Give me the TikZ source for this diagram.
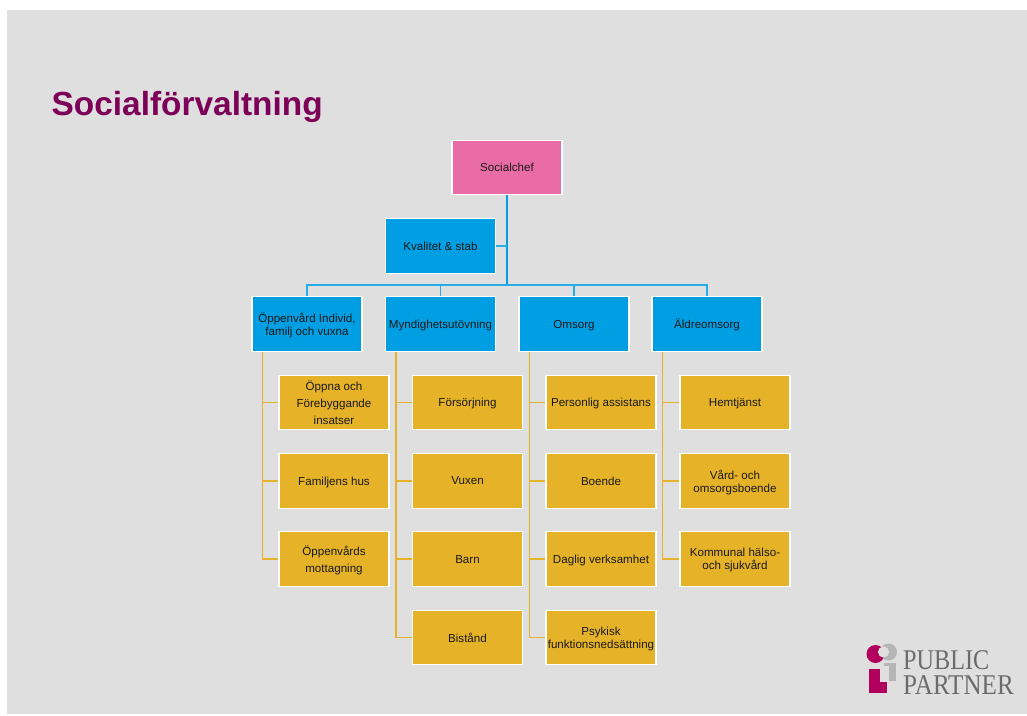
\documentclass[tikz,border=0pt]{standalone}
\usepackage{fontspec}
\setmainfont{Liberation Sans}
\newfontfamily\logofont{Liberation Serif}
\usepackage{xcolor}
\usepackage{tikz}
\definecolor{slidegray}{HTML}{DFDFDF}
\definecolor{titleplum}{HTML}{7D0058}
\definecolor{chefpink}{HTML}{EA6CA6}
\definecolor{unitblue}{HTML}{009FE3}
\definecolor{subyellow}{HTML}{E6B328}
\definecolor{logored}{HTML}{B2005E}
\definecolor{logogray}{HTML}{B5B5B5}
\definecolor{logotext}{HTML}{6B6B6B}
\tikzset{
	orgbox/.style={draw=white, line width=1.2, minimum width=110, minimum height=54.5, inner sep=0, text depth=0, align=center, font=\fontsize{11.6}{13}\selectfont, text=black!90},
	chefbox/.style={orgbox, fill=chefpink},
	unitbox/.style={orgbox, fill=unitblue},
	subbox/.style={orgbox, fill=subyellow},
	looseline/.style={font=\fontsize{11.6}{16.7}\selectfont},
	trunkline/.style={color=unitblue, line width=2},
	busline/.style={color=unitblue!85!white, line width=1.7},
	subline/.style={color=subyellow, line width=1.8}
}
\begin{document}
\begin{tikzpicture}[x=1pt, y=-1pt]
\useasboundingbox (0,0) rectangle (1027,715);
\fill[white] (0,0) rectangle (1027,715);
\fill[slidegray] (7,10) rectangle (1027,714);
\node[font=\bfseries\fontsize{33.4}{36}\selectfont, text=titleplum, anchor=base west, inner sep=0] (title) at (51.5,115.5) {Socialf\"orvaltning};

\node[chefbox] (chef) at (507,167.5) {Socialchef};
\node[unitbox] (stab) at (440.5,246) {Kvalitet \& stab};
\coordinate (bus) at (507,285);

\node[unitbox, font=\fontsize{11.6}{12.8}\selectfont] (oppenvard) at (307,324) {\"Oppenv\aa rd Individ,\\familj och vuxna};
\node[unitbox] (myndighet) at (440.5,324) {Myndighetsut\"ovning};
\node[unitbox] (omsorg) at (574,324) {Omsorg};
\node[unitbox] (aldre) at (707,324) {\"Aldreomsorg};

\node[subbox, looseline] (oppna) at (334,402.5) {\"Oppna och\\F\"orebyggande\\insatser};
\node[subbox] (familj) at (334,481) {Familjens hus};
\node[subbox, looseline] (mottag) at (334,559) {\"Oppenv\aa rds\\mottagning};

\node[subbox] (forsorj) at (467.5,402.5) {F\"ors\"orjning};
\node[subbox] (vuxen) at (467.5,481) {Vuxen};
\node[subbox] (barn) at (467.5,559) {Barn};
\node[subbox] (bistand) at (467.5,637.5) {Bist\aa nd};

\node[subbox] (assist) at (601,402.5) {Personlig assistans};
\node[subbox] (boende) at (601,481) {Boende};
\node[subbox] (daglig) at (601,559) {Daglig verksamhet};
\node[subbox] (psykisk) at (601,637.5) {Psykisk\\funktionsneds\"attning};

\node[subbox] (hemtj) at (735,402.5) {Hemtj\"anst};
\node[subbox] (vard) at (735,481) {V\aa rd- och\\omsorgsboende};
\node[subbox] (halso) at (735,559) {Kommunal h\"also-\\och sjukv\aa rd};

\draw[trunkline] (chef.south) -- (bus);
\draw[busline] (stab.east) -- (stab.east -| chef);
\foreach \u in {oppenvard,myndighet,omsorg,aldre}{
	\draw[busline] (bus) -| (\u.north);
}
\foreach \s in {oppna,familj,mottag}{
	\draw[subline] ([xshift=11]oppenvard.south west) |- (\s.west);
}
\foreach \s in {forsorj,vuxen,barn,bistand}{
	\draw[subline] ([xshift=11]myndighet.south west) |- (\s.west);
}
\foreach \s in {assist,boende,daglig,psykisk}{
	\draw[subline] ([xshift=11]omsorg.south west) |- (\s.west);
}
\foreach \s in {hemtj,vard,halso}{
	\draw[subline] ([xshift=11]aldre.south west) |- (\s.west);
}

% logo
\fill[logogray] (888.5,652) circle (8.5);
\fill[logored] (875.5,654) circle (9);
\fill[slidegray] (883.5,652) circle (5.6);
\fill[logogray] (884,662.5) rectangle (896,666);
\fill[logogray] (889,662.5) rectangle (896,681);
\fill[logored] (869,669) rectangle (880,693);
\fill[logored] (869,682) rectangle (887,693);
\node[font=\logofont\fontsize{24.2}{28}\selectfont, text=logotext, anchor=base west, inner sep=0, yscale=1.18] (public) at (903,669) {PUBLIC};
\node[font=\logofont\fontsize{25.1}{28}\selectfont, text=logotext, anchor=base west, inner sep=0, yscale=1.14] (partner) at (903,694) {PARTNER};
\end{tikzpicture}
\end{document}
